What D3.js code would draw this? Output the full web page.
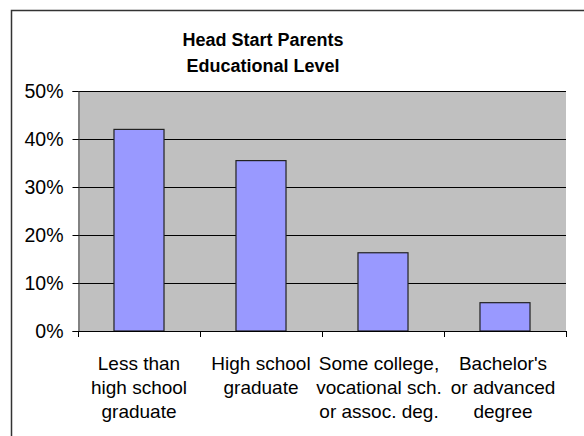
<!DOCTYPE html>
<html><head><meta charset="utf-8">
<script src="https://cdn.jsdelivr.net/npm/d3@7"></script>
<style>body{margin:0;background:#fff}svg{display:block}text{font-family:"Liberation Sans",Arial,sans-serif}</style>
</head><body><div id="chart"></div>
<script>
const categories = [
  ["Less than", "high school", "graduate"],
  ["High school", "graduate"],
  ["Some college,", "vocational sch.", "or assoc. deg."],
  ["Bachelor's", "or advanced", "degree"]
];
const values = [0.42, 0.355, 0.163, 0.059];
const yTicks = [0, 0.1, 0.2, 0.3, 0.4, 0.5];
const titleLines = ["Head Start Parents", "Educational Level"];

const W = 584, H = 436;
const svg = d3.select("#chart").append("svg").attr("width", W).attr("height", H);
svg.append("rect").attr("x", 11.5).attr("y", 10.5).attr("width", 600).attr("height", 500)
  .attr("fill", "#fff").attr("stroke", "#333").attr("stroke-width", 1.5);

const L = 78, R = 566, T = 91, B = 331;
const x = d3.scaleBand().domain(d3.range(categories.length)).range([L, R]).padding(0);
const y = d3.scaleLinear().domain([0, 0.5]).range([B, T]);

svg.append("rect").attr("x", L).attr("y", T).attr("width", R - L).attr("height", B - T).attr("fill", "#c0c0c0");

// gridlines
svg.append("g").selectAll("line").data(yTicks.filter(d => d > 0)).join("line")
  .attr("x1", L).attr("x2", R).attr("y1", d => Math.round(y(d)) + 0.5).attr("y2", d => Math.round(y(d)) + 0.5)
  .attr("stroke", "#000").attr("stroke-width", 1);

// bars
const bw = x.bandwidth() * 0.41;
svg.append("g").selectAll("rect").data(values).join("rect")
  .attr("x", (d, i) => x(i) + (x.bandwidth() - bw) / 2)
  .attr("y", d => y(d))
  .attr("width", bw)
  .attr("height", d => B - y(d))
  .attr("fill", "#9999ff").attr("stroke", "#222").attr("stroke-width", 1.2);

// y axis
const yAxis = d3.axisLeft(y).tickValues(yTicks).tickFormat(d3.format(".0%")).tickSize(6).tickPadding(9);
const yg = svg.append("g").attr("transform", `translate(${L + 0.5},0)`).call(yAxis);
yg.select(".domain").attr("stroke", "#444");
yg.selectAll(".tick line").attr("stroke", "#000");
yg.selectAll("text").attr("font-size", 19.5).attr("fill", "#000").attr("font-family", '"Liberation Sans",Arial,sans-serif');

// x axis
svg.append("line").attr("x1", L).attr("x2", R + 0.5).attr("y1", B + 0.5).attr("y2", B + 0.5).attr("stroke", "#000");
const bounds = d3.range(categories.length + 1).map(i => i < categories.length ? x(i) : R);
svg.append("g").selectAll("line").data(bounds).join("line")
  .attr("x1", d => Math.round(d) + 0.5).attr("x2", d => Math.round(d) + 0.5)
  .attr("y1", B).attr("y2", B + 6).attr("stroke", "#000");

const lab = svg.append("g").selectAll("text").data(categories).join("text")
  .attr("x", (d, i) => x(i) + x.bandwidth() / 2 - (i === 2 ? 4 : i === 3 ? 2 : 0))
  .attr("text-anchor", "middle").attr("font-size", 19).attr("fill", "#000");
lab.selectAll("tspan").data(d => d).join("tspan")
  .attr("x", function () { return this.parentNode.getAttribute("x"); })
  .attr("y", (d, j) => 370 + j * 24).text(d => d);

// title
svg.append("g").selectAll("text").data(titleLines).join("text")
  .attr("x", 263).attr("y", (d, i) => 46 + i * 25.5)
  .attr("text-anchor", "middle").attr("font-size", 18).attr("font-weight", "bold").text(d => d);
</script></body></html>
